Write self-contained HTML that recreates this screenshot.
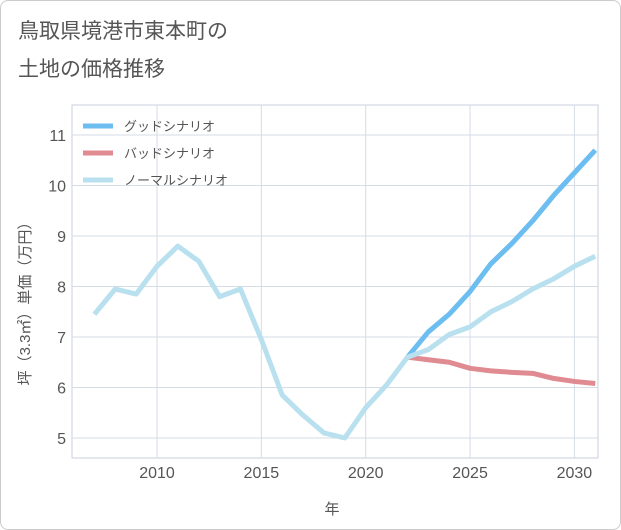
<!DOCTYPE html>
<html><head><meta charset="utf-8"><style>
body{margin:0;background:#fff;font-family:"Liberation Sans","Noto Sans CJK JP",sans-serif;}
#wrap{position:relative;width:619px;height:528px;border:1px solid #ccc;border-radius:8px;overflow:hidden;background:#fff}
</style></head><body>
<div id="wrap">
<svg id="chart" width="621" height="530" style="position:absolute;left:-1px;top:-1px">
<text x="18" y="38" font-size="21" fill="#555">鳥取県境港市東本町の</text>
<text x="18" y="76" font-size="21" fill="#555">土地の価格推移</text>
<g id="grid"></g><g id="series"></g><g id="legend"></g>
<text x="332" y="514" font-size="15" fill="#555" text-anchor="middle">年</text>
<text transform="translate(30,300) rotate(-90)" font-size="15" fill="#555" text-anchor="middle">坪（3.3㎡）単価（万円）</text>
</svg>
</div>
<script>
const years=[2007,2008,2009,2010,2011,2012,2013,2014,2015,2016,2017,2018,2019,2020,2021,2022,2023,2024,2025,2026,2027,2028,2029,2030,2031];
const normalVals=[7.45,7.95,7.85,8.4,8.8,8.5,7.8,7.95,6.95,5.85,5.45,5.1,5.0,5.6,6.05,6.6,6.75,7.05,7.2,7.5,7.7,7.95,8.15,8.4,8.6];
const futureYears=[2022,2023,2024,2025,2026,2027,2028,2029,2030,2031];
const goodVals=[6.6,7.1,7.45,7.9,8.45,8.85,9.3,9.8,10.25,10.7];
const badVals=[6.6,6.55,6.5,6.38,6.33,6.3,6.28,6.18,6.12,6.08];
const xTicks=[2010,2015,2020,2025,2030];
const yTicks=[5,6,7,8,9,10,11];
const legendLabels=["グッドシナリオ","バッドシナリオ","ノーマルシナリオ"];
const ns="http://www.w3.org/2000/svg";
const L=72,R=598,T=105,B=458;
const X=y=>157+(y-2010)*20.87;
const Y=v=>438-(v-5)*50.5;
function mk(tag,at,parent){const e=document.createElementNS(ns,tag);for(const k in at)e.setAttribute(k,at[k]);parent.appendChild(e);return e;}
const g=document.getElementById('grid');
const bg=mk('rect',{x:L,y:T,width:R-L,height:B-T,fill:'#fff',stroke:'#c8d0dc'},g);


yTicks.forEach(v=>{
 const l=mk('line',{x1:L,x2:R,y1:Y(v),y2:Y(v),stroke:'#d5dce6'},g);
 
 
 const t=mk('text',{x:L-6,y:Y(v)+6,'font-size':16,fill:'#555','text-anchor':'end'},g);t.textContent=v;
 
 
});
xTicks.forEach(v=>{
 const l=mk('line',{x1:X(v),x2:X(v),y1:T,y2:B,stroke:'#d5dce6'},g);
 
 
 const t=mk('text',{x:X(v),y:B+20,'font-size':16,fill:'#555','text-anchor':'middle'},g);t.textContent=v;
 
 
});
const s=document.getElementById('series');
function line(xs,vs,color,name){
 const p=mk('polyline',{points:xs.map((y,i)=>X(y)+','+Y(vs[i])).join(' '),fill:'none',stroke:color,'stroke-width':5,'stroke-linejoin':'round'},s);
 
 
}
line(futureYears,badVals,'#e08a92','bad-scenario-line');
line(futureYears,goodVals,'#6cbdf0','good-scenario-line');
line(years,normalVals,'#b9e0ee','normal-scenario-line');
const lg=document.getElementById('legend');
const cols=['#6cbdf0','#e08a92','#b9e0ee'];
legendLabels.forEach((lab,i)=>{
 const y=126+i*27;
 const l=mk('line',{x1:83,x2:113,y1:y,y2:y,stroke:cols[i],'stroke-width':5},lg);
 
 
 const t=mk('text',{x:124,y:y+5,'font-size':13,fill:'#555'},lg);t.textContent=lab;
 
 
});
</script>
</body></html>
